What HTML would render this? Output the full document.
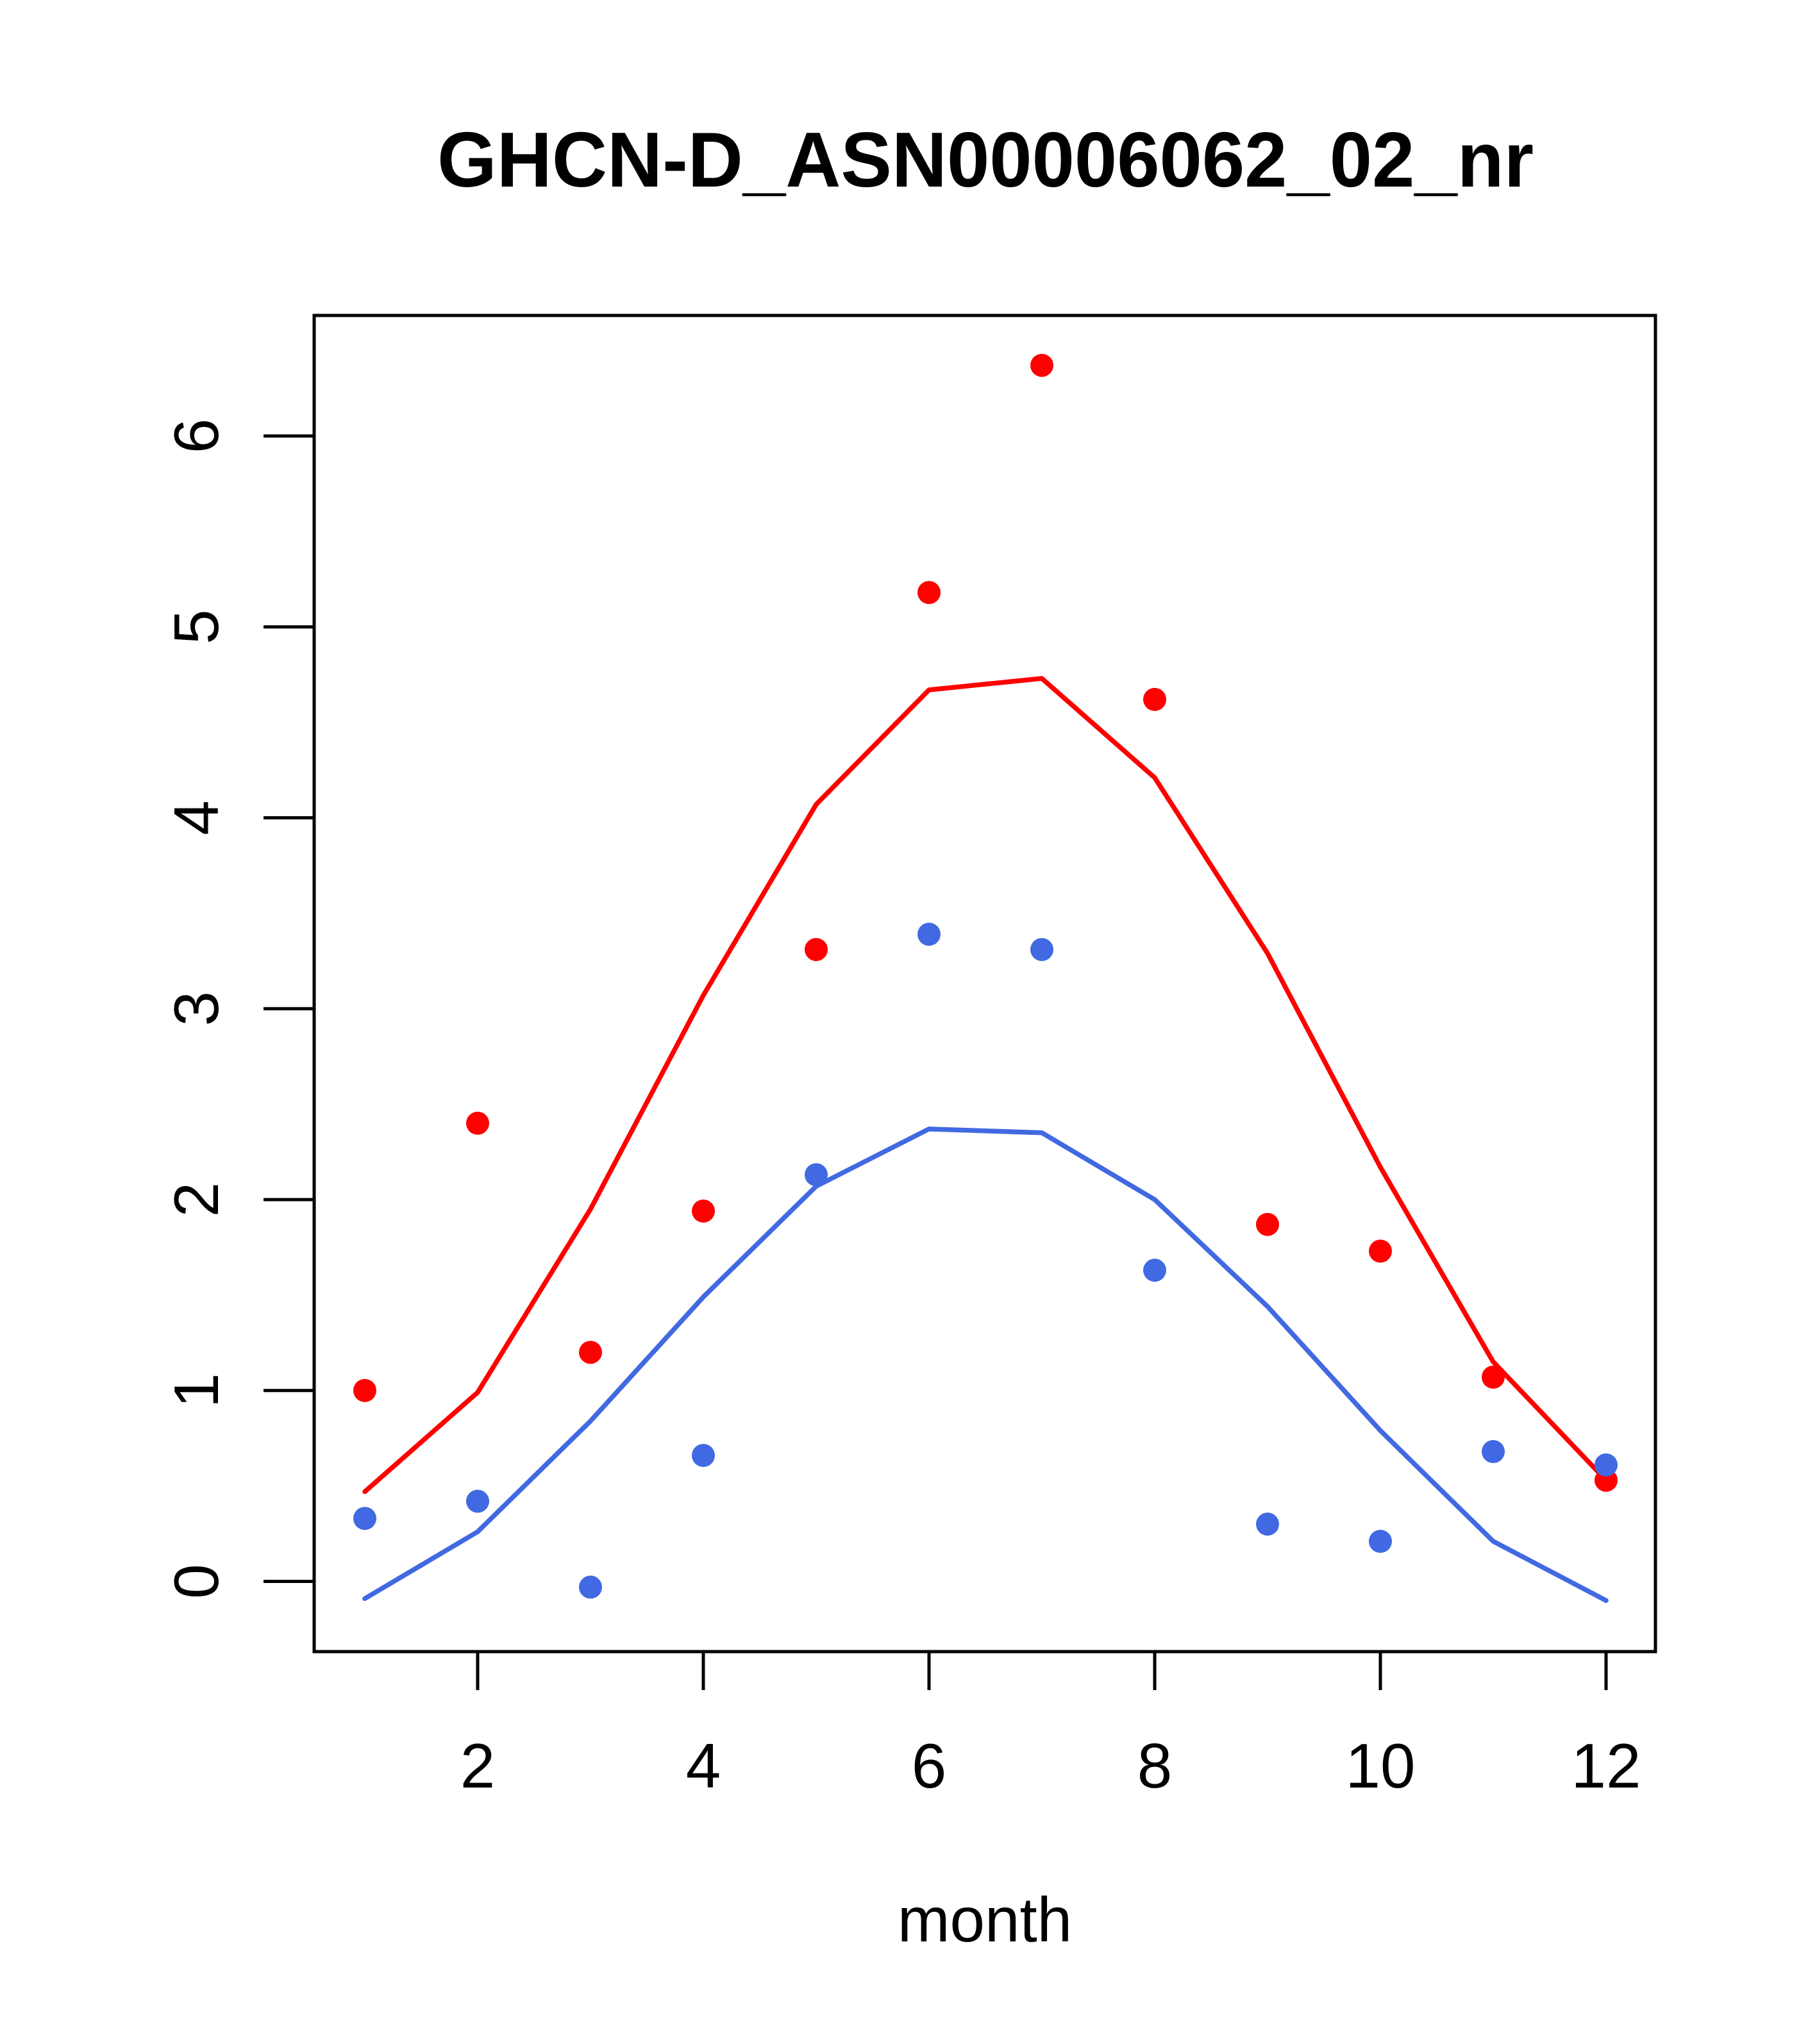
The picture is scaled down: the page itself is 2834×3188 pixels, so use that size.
<!DOCTYPE html>
<html><head><meta charset="utf-8"><style>html,body{margin:0;padding:0;background:#fff}svg{display:block}</style></head>
<body>
<svg id="chart" width="2834" height="3188" viewBox="0 0 2834 3188" xmlns="http://www.w3.org/2000/svg" font-family="Liberation Sans, sans-serif">
<rect width="2834" height="3188" fill="#fff"/>
<text x="1537" y="291" font-size="122" font-weight="bold" text-anchor="middle" textLength="1710" lengthAdjust="spacingAndGlyphs">GHCN-D_ASN00006062_02_nr</text>
<rect x="490" y="492" width="2092" height="2084" fill="none" stroke="#000" stroke-width="5"/>
<g id="xaxis"></g>
<g id="yaxis"></g>
<g id="marks"></g>
<text x="1536" y="3028" font-size="98" text-anchor="middle">month</text>
</svg>
<script>
const months = [1,2,3,4,5,6,7,8,9,10,11,12];
const redPoints = [1.0,2.40,1.20,1.94,3.31,5.18,6.37,4.62,1.87,1.73,1.07,0.53];
const redLine = [0.47,0.99,1.95,3.07,4.07,4.67,4.73,4.21,3.29,2.17,1.15,0.53];
const bluePoints = [0.33,0.42,-0.03,0.66,2.13,3.39,3.31,1.63,0.30,0.21,0.68,0.61];
const blueLine = [-0.09,0.26,0.84,1.49,2.07,2.37,2.35,2.00,1.44,0.79,0.21,-0.10];
const xTicks = [2,4,6,8,10,12];
const yTicks = [0,1,2,3,4,5,6];

const NS = 'http://www.w3.org/2000/svg';
function sx(m){ return 569 + (m - 1) * 176; }
function sy(v){ return 2466.5 - v * 297.75; }
function mk(tag, attrs, parent){ const e = document.createElementNS(NS, tag); for (const k in attrs) e.setAttribute(k, attrs[k]); parent.appendChild(e); return e; }

const xa = document.getElementById('xaxis');
xTicks.forEach(t => {
  const l = mk('line', {x1: sx(t), x2: sx(t), y1: 2576, y2: 2636, stroke: '#000', 'stroke-width': 5}, xa);
  
  
  const tx = mk('text', {x: sx(t), y: 2788, 'font-size': 98, 'text-anchor': 'middle'}, xa);
  tx.textContent = t;
  
  
});
const ya = document.getElementById('yaxis');
yTicks.forEach(t => {
  const l = mk('line', {x1: 411, x2: 490, y1: sy(t), y2: sy(t), stroke: '#000', 'stroke-width': 5}, ya);
  
  
  const tx = mk('text', {x: 0, y: 0, 'font-size': 98, 'text-anchor': 'middle', transform: 'translate(340,' + sy(t) + ') rotate(-90)'}, ya);
  tx.textContent = t;
  
  
});
const g = document.getElementById('marks');
function line(vals, color, name){
  const p = mk('polyline', {points: vals.map((v,i) => sx(months[i]) + ',' + sy(v)).join(' '), fill: 'none', stroke: color, 'stroke-width': 7.5, 'stroke-linejoin': 'round', 'stroke-linecap': 'round'}, g);
  
  
}
function pts(vals, color, name){
  vals.forEach((v,i) => {
    const c = mk('circle', {cx: sx(months[i]), cy: sy(v), r: 18, fill: color}, g);
    
    
  });
}
line(redLine, '#ff0000', 'red-line');
line(blueLine, '#4169e1', 'blue-line');
pts(redPoints, '#ff0000', 'red-point');
pts(bluePoints, '#4169e1', 'blue-point');
</script>
</body></html>
